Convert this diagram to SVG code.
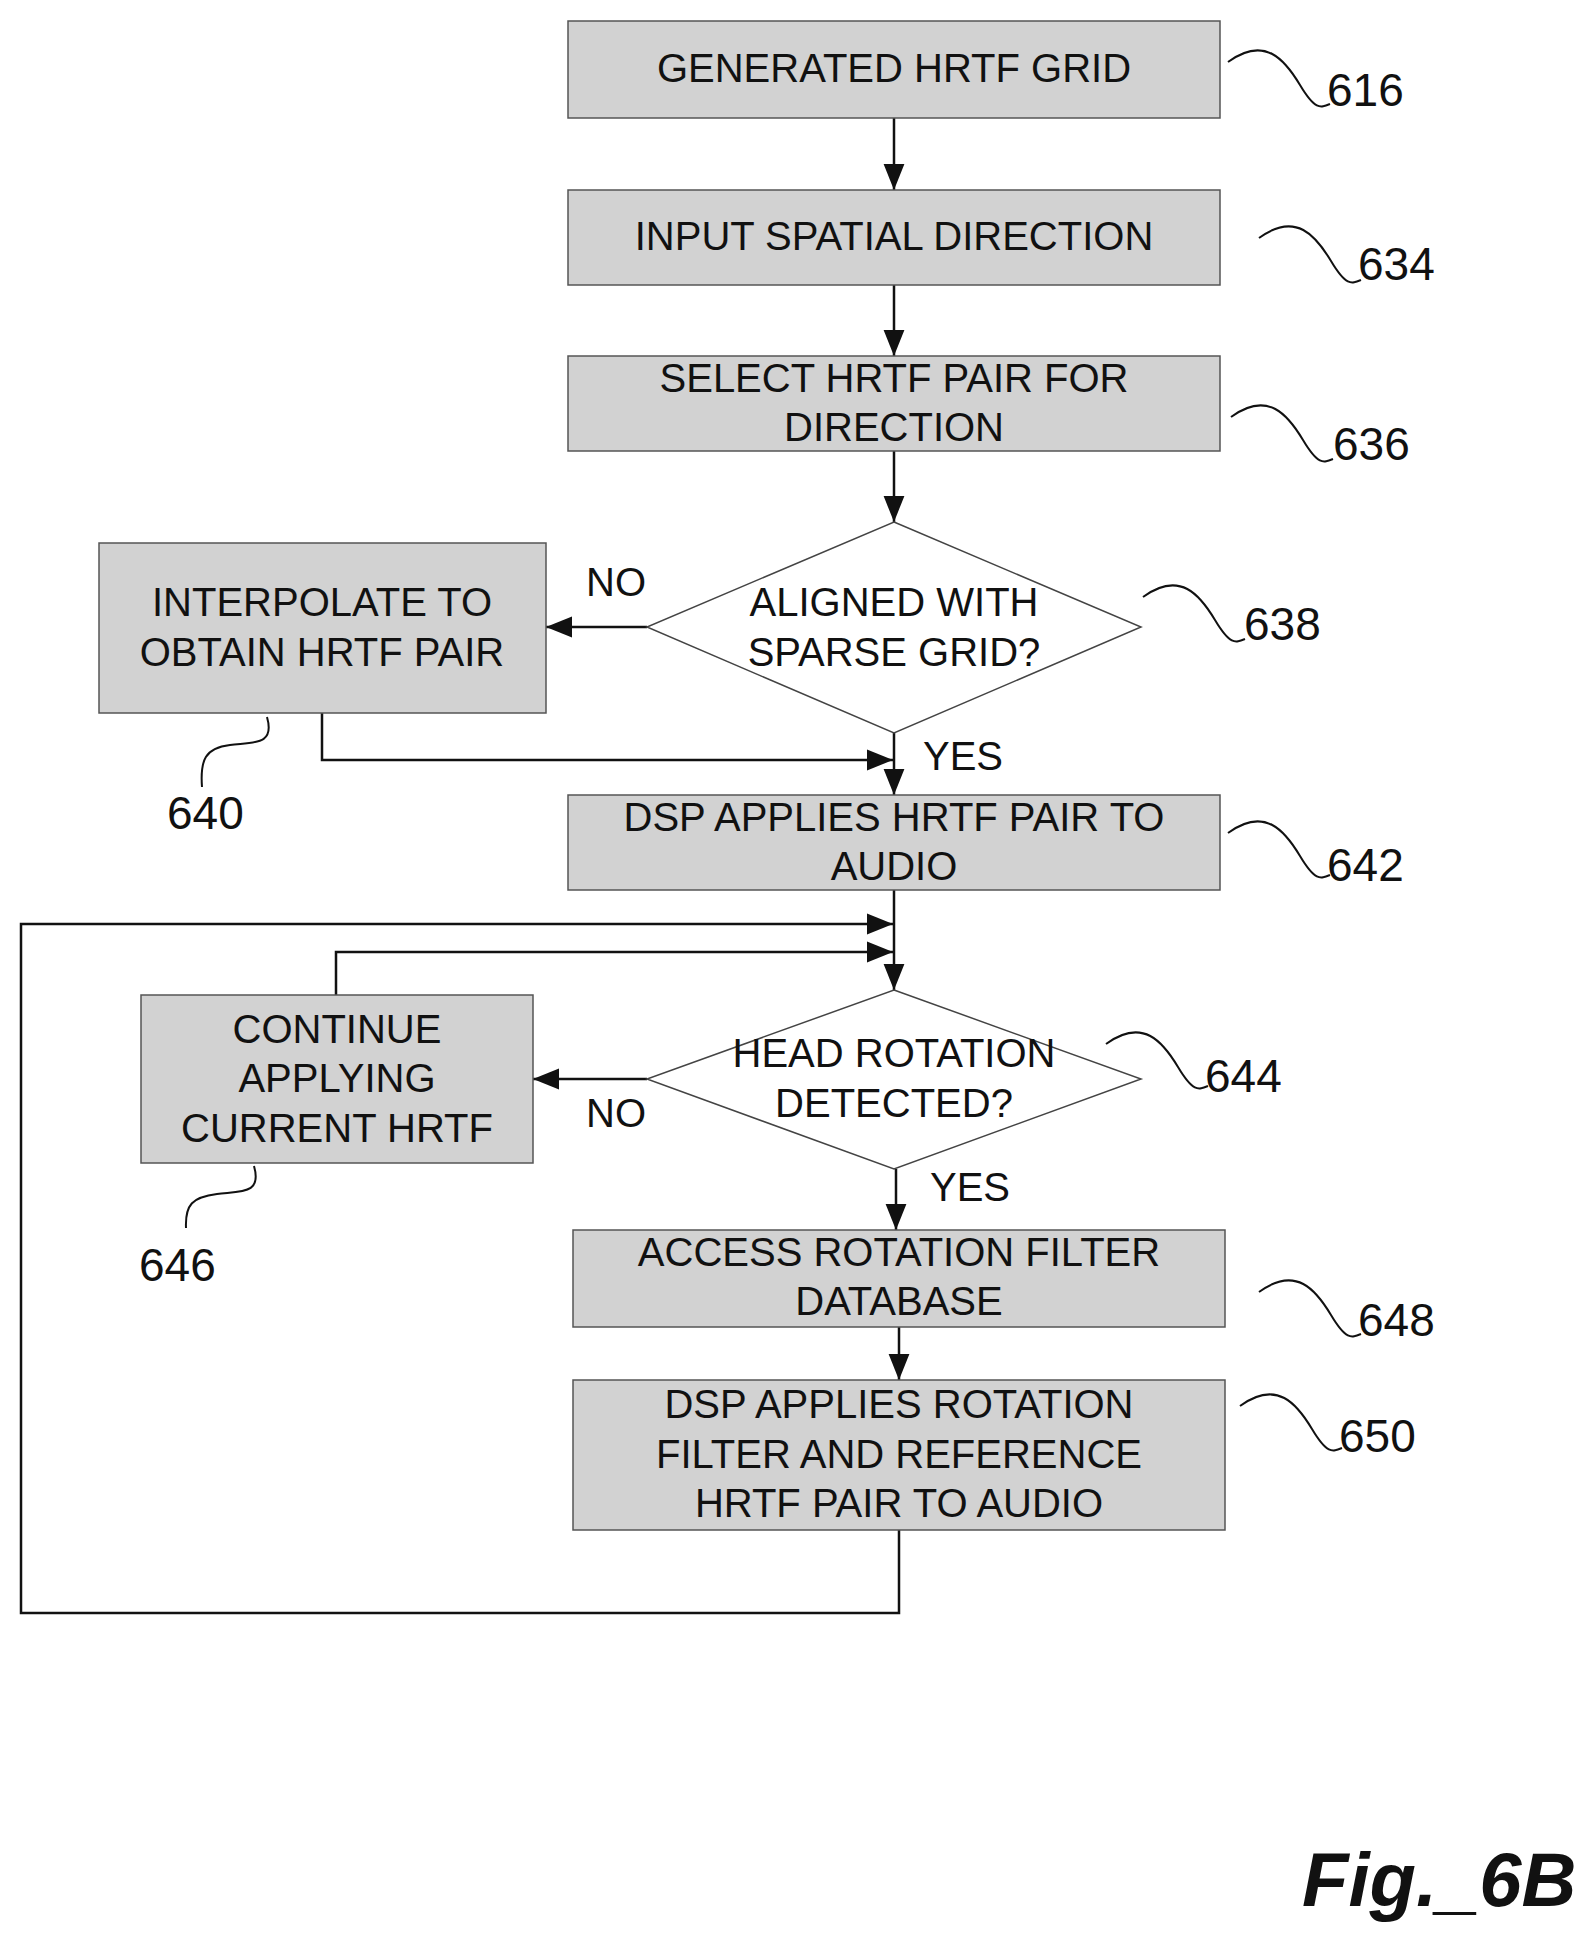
<svg xmlns="http://www.w3.org/2000/svg" width="1587" height="1940" viewBox="0 0 1587 1940">
<style>
.b{fill:#d2d2d2;stroke:#555;stroke-width:1.5}
.t{font-family:"Liberation Sans",Arial,sans-serif;font-size:40px;fill:#111;text-anchor:middle}
.r{font-family:"Liberation Sans",Arial,sans-serif;font-size:46px;fill:#111}
.c{fill:none;stroke:#111;stroke-width:2.5}
.s{fill:none;stroke:#111;stroke-width:2}
</style>
<defs>
<marker id="A" viewBox="0 0 10 10" refX="10" refY="5" markerWidth="26" markerHeight="26" markerUnits="userSpaceOnUse" orient="auto"><path d="M0,1L10,5L0,9z" fill="#111"/></marker>
</defs>
<rect width="1587" height="1940" fill="#fff"/>
<g id="connectors">
<path class="c" d="M894,118V190" marker-end="url(#A)"/>
<path class="c" d="M894,285V356" marker-end="url(#A)"/>
<path class="c" d="M894,451V522" marker-end="url(#A)"/>
<path class="c" d="M647,627H546" marker-end="url(#A)"/>
<path class="c" d="M894,733V795" marker-end="url(#A)"/>
<path class="c" d="M322,713V760H893" marker-end="url(#A)"/>
<path class="c" d="M894,890V990" marker-end="url(#A)"/>
<path class="c" d="M899,1530V1613H21V924H893" marker-end="url(#A)"/>
<path class="c" d="M336,995V952H893" marker-end="url(#A)"/>
<path class="c" d="M647,1079H533" marker-end="url(#A)"/>
<path class="c" d="M896,1169V1230" marker-end="url(#A)"/>
<path class="c" d="M899,1327V1380" marker-end="url(#A)"/>
</g>
<g id="n616"><rect class="b" x="568" y="21" width="652" height="97"/><text class="t" x="894" y="82">GENERATED  HRTF GRID</text></g>
<g id="n634"><rect class="b" x="568" y="190" width="652" height="95"/><text class="t" x="894" y="250">INPUT SPATIAL DIRECTION</text></g>
<g id="n636"><rect class="b" x="568" y="356" width="652" height="95"/><text class="t" x="894" y="392">SELECT HRTF PAIR FOR</text><text class="t" x="894" y="441">DIRECTION</text></g>
<g id="n638"><path d="M894,522L1141,627L894,733L647,627z" fill="#fff" stroke="#444" stroke-width="1.5"/><text class="t" x="894" y="616">ALIGNED WITH</text><text class="t" x="894" y="666">SPARSE GRID?</text></g>
<g id="n640"><rect class="b" x="99" y="543" width="447" height="170"/><text class="t" x="322" y="616">INTERPOLATE TO</text><text class="t" x="322" y="666">OBTAIN HRTF PAIR</text></g>
<g id="n642"><rect class="b" x="568" y="795" width="652" height="95"/><text class="t" x="894" y="831">DSP APPLIES HRTF PAIR TO</text><text class="t" x="894" y="880">AUDIO</text></g>
<g id="n644"><path d="M894,990L1141,1079L894,1169L647,1079z" fill="#fff" stroke="#444" stroke-width="1.5"/><text class="t" x="894" y="1067">HEAD ROTATION</text><text class="t" x="894" y="1117">DETECTED?</text></g>
<g id="n646"><rect class="b" x="141" y="995" width="392" height="168"/><text class="t" x="337" y="1043">CONTINUE</text><text class="t" x="337" y="1092">APPLYING</text><text class="t" x="337" y="1142">CURRENT HRTF</text></g>
<g id="n648"><rect class="b" x="573" y="1230" width="652" height="97"/><text class="t" x="899" y="1266">ACCESS ROTATION FILTER</text><text class="t" x="899" y="1315">DATABASE</text></g>
<g id="n650"><rect class="b" x="573" y="1380" width="652" height="150"/><text class="t" x="899" y="1418">DSP APPLIES ROTATION</text><text class="t" x="899" y="1468">FILTER AND REFERENCE</text><text class="t" x="899" y="1517">HRTF PAIR TO AUDIO</text></g>
<g id="labels">
<text class="t" x="616" y="596">NO</text>
<text class="t" x="963" y="770">YES</text>
<text class="t" x="616" y="1127">NO</text>
<text class="t" x="970" y="1201">YES</text>
<path class="s" d="M1228,62C1265,35 1285,60 1300,85S1320,108 1330,104"/><text class="r" x="1327" y="106">616</text>
<path class="s" d="M1259,238C1296,211 1316,236 1331,261S1351,284 1361,280"/><text class="r" x="1358" y="280">634</text>
<path class="s" d="M1231,417C1268,390 1288,415 1303,440S1323,463 1333,459"/><text class="r" x="1333" y="460">636</text>
<path class="s" d="M1143,597C1180,570 1200,595 1215,620S1235,643 1245,639"/><text class="r" x="1244" y="640">638</text>
<path class="s" d="M1228,833C1265,806 1285,831 1300,856S1320,879 1330,875"/><text class="r" x="1327" y="881">642</text>
<path class="s" d="M1106,1044C1143,1017 1163,1042 1178,1067S1198,1090 1208,1086"/><text class="r" x="1205" y="1092">644</text>
<path class="s" d="M1259,1292C1296,1265 1316,1290 1331,1315S1351,1338 1361,1334"/><text class="r" x="1358" y="1336">648</text>
<path class="s" d="M1240,1406C1277,1379 1297,1404 1312,1429S1332,1452 1342,1448"/><text class="r" x="1339" y="1452">650</text>
<path class="s" d="M267,717C275,745 255,742 230,745S200,760 202,787"/><text class="r" x="167" y="829">640</text>
<path class="s" d="M254,1166C262,1194 242,1191 217,1194S185,1205 186,1228"/><text class="r" x="139" y="1281">646</text>
<text x="1302" y="1906" font-family="Liberation Sans,Arial,sans-serif" font-size="76" font-weight="bold" font-style="italic" fill="#111">Fig._6B</text>
</g>
</svg>
